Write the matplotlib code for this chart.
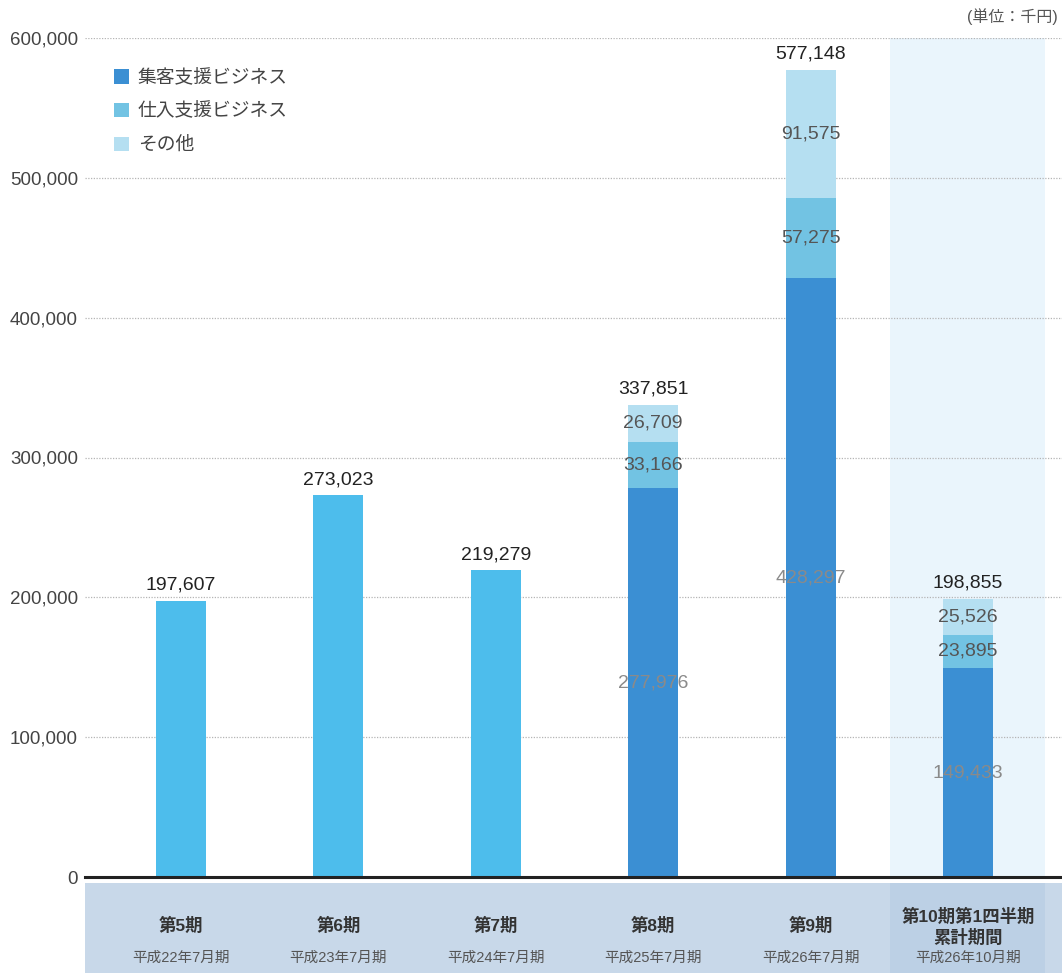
import matplotlib
matplotlib.use("Agg")
import matplotlib.pyplot as plt
import numpy as np

plt.rcParams['font.family'] = ['Liberation Sans', 'Noto Sans CJK JP', 'DejaVu Sans']

# Periods and sub-labels
periods = ["第5期", "第6期", "第7期", "第8期", "第9期", "第10期第1四半期\n累計期間"]
period_dates = ["平成22年7月期", "平成23年7月期", "平成24年7月期",
                "平成25年7月期", "平成26年7月期", "平成26年10月期"]

# Totals (thousand yen)
totals = [197607, 273023, 219279, 337851, 577148, 198855]

# Segment breakdown (available from 第8期 on)
seg_periods = [3, 4, 5]
shukyaku = [277976, 428297, 149433]   # 集客支援ビジネス
shiire = [33166, 57275, 23895]        # 仕入支援ビジネス
sonota = [26709, 91575, 25526]        # その他

seg_names = ["集客支援ビジネス", "仕入支援ビジネス", "その他"]
seg_colors = ["#3b8fd3", "#72c3e3", "#b5dff1"]
single_color = "#4dbdec"

yticks = [0, 100000, 200000, 300000, 400000, 500000, 600000]

W, H = 1062, 973
fig = plt.figure(figsize=(W / 100, H / 100), dpi=100)

x0, x1 = 85, 1062
y_zero, y_top = 877, 38
ax = fig.add_axes([x0 / W, (H - y_zero) / H, (x1 - x0) / W, (y_zero - y_top) / H])

xlim = (-0.61, 5.597)
ax.set_xlim(*xlim)
ax.set_ylim(0, 600000)

# highlighted latest period
ax.axvspan(4.504, 5.49, color="#eaf5fc", zorder=0, lw=0)

# dotted gridlines
for t in yticks[1:]:
    ax.axhline(t, color="#b5b5b5", lw=0.9, ls=(0, (1, 1.2)), zorder=1)

bw = 0.318
x = np.arange(len(periods))

# single-colour bars before segment reporting
for i in range(3):
    ax.bar(x[i], totals[i], width=bw, color=single_color, zorder=2, lw=0)

# stacked segment bars
sx = np.array(seg_periods)
b1 = ax.bar(sx, shukyaku, width=bw, color=seg_colors[0], zorder=2, lw=0, label=seg_names[0])
b2 = ax.bar(sx, shiire, width=bw, bottom=shukyaku, color=seg_colors[1], zorder=2, lw=0, label=seg_names[1])
bot3 = np.array(shukyaku) + np.array(shiire)
b3 = ax.bar(sx, sonota, width=bw, bottom=bot3, color=seg_colors[2], zorder=2, lw=0, label=seg_names[2])

# segment value labels
for j, p in enumerate(seg_periods):
    ax.text(p, shukyaku[j] / 2, f"{shukyaku[j]:,}", ha="center", va="center",
            fontsize=14, color="#8a8a8a", zorder=3)
    ax.text(p, shukyaku[j] + shiire[j] / 2, f"{shiire[j]:,}", ha="center", va="center",
            fontsize=14, color="#555555", zorder=3)
    ax.text(p, bot3[j] + sonota[j] / 2, f"{sonota[j]:,}", ha="center", va="center",
            fontsize=14, color="#555555", zorder=3)

# total labels
for i, t in enumerate(totals):
    ax.text(x[i], t + 5000, f"{t:,}", ha="center", va="bottom",
            fontsize=14, color="#222222", zorder=3)

ax.set_yticks(yticks)
ax.set_yticklabels([f"{t:,}" for t in yticks], fontsize=13.5, color="#444444")
ax.tick_params(axis="y", length=0, pad=5)
ax.set_xticks([])
for s in ["top", "right", "left"]:
    ax.spines[s].set_visible(False)
ax.spines["bottom"].set_color("#222222")
ax.spines["bottom"].set_linewidth(2.2)

leg = ax.legend(handles=[b1, b2, b3], loc="upper left", bbox_to_anchor=(0.012, 0.983),
                frameon=False, fontsize=13.5, handlelength=0.8, handleheight=0.8,
                handletextpad=0.5, labelspacing=0.85, labelcolor="#444444")

# unit
fig.text(1058 / W, 1 - 17 / H, "(単位：千円)", ha="right", va="center",
         fontsize=11.5, color="#555555")

# category band below the axis
band_top = 883
axb = fig.add_axes([x0 / W, 0, (x1 - x0) / W, (H - band_top) / H])
axb.set_xlim(*xlim)
axb.set_ylim(0, 1)
axb.axis("off")
axb.axvspan(xlim[0], xlim[1], color="#c8d8e9", lw=0)
axb.axvspan(4.504, 5.49, color="#bcd0e5", lw=0)

band_h = H - band_top
def by(py):
    return (H - py) / band_h

for i, (p, d) in enumerate(zip(periods, period_dates)):
    if "\n" in p:
        axb.text(x[i], by(927), p, ha="center", va="center", fontsize=12.5,
                 fontweight="bold", color="#333333", linespacing=1.3)
    else:
        axb.text(x[i], by(925), p, ha="center", va="center", fontsize=12.5,
                 fontweight="bold", color="#333333")
    axb.text(x[i], by(958), d, ha="center", va="center", fontsize=10.5, color="#555555")

fig.savefig("out.png", dpi=100, facecolor="white")
